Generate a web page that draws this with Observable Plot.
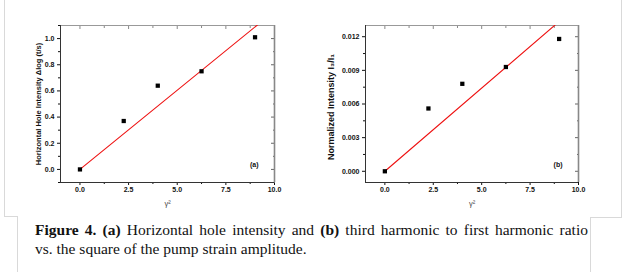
<!DOCTYPE html>
<html><head><meta charset="utf-8">
<script src="https://cdn.jsdelivr.net/npm/d3@7"></script>
<script src="https://cdn.jsdelivr.net/npm/@observablehq/plot@0.6"></script>
<style>
html,body{margin:0;padding:0;background:#fff;}
#wrap{position:relative;width:622px;height:272px;overflow:hidden;background:#fff;}
.ln{position:absolute;background:#d9d9d9;}
.pl{position:absolute;top:0;}
#cap{position:absolute;left:35px;top:220px;width:553px;font-family:"Liberation Serif","Times New Roman",serif;font-size:15.5px;color:#111;line-height:19px;}
#cap div{text-align:justify;white-space:nowrap;}
#cap .l1{text-align-last:justify;white-space:normal;}
</style></head>
<body><div id="wrap">
<div class="ln" style="left:4px;top:0;width:1px;height:216px"></div>
<div class="ln" style="left:4px;top:216px;width:13px;height:1px"></div>
<div class="ln" style="left:17px;top:216px;width:1px;height:56px"></div>
<div class="ln" style="left:621px;top:0;width:1px;height:217px"></div>
<div class="ln" style="left:590px;top:217px;width:32px;height:1px"></div>
<div class="ln" style="left:590px;top:217px;width:1px;height:55px"></div>
<div id="pa" class="pl" style="left:0"></div>
<div id="pb" class="pl" style="left:311px"></div>
<div id="cap"><div class="l1"><b>Figure 4. (a)</b> Horizontal hole intensity and <b>(b)</b> third harmonic to first harmonic ratio</div><div>vs. the square of the pump strain amplitude.</div></div>
</div>
<script>
// data
const gamma2 = [0, 2.25, 4, 6.25, 9];
const holeIntensity = [0, 0.37, 0.64, 0.75, 1.01];
const ratioI3I1 = [0, 0.0056, 0.0078, 0.0093, 0.0118];
const fitA = {x: [0, 10], y: [0, 1.21]};
const fitB = {x: [0, 10], y: [0, 0.01484]};
const xTicks = [0, 2.5, 5, 7.5, 10];
const xMinor = [1.25, 3.75, 6.25, 8.75];
const yTicksA = [0, 0.2, 0.4, 0.6, 0.8, 1.0];
const yMinorA = [-0.1, 0.1, 0.3, 0.5, 0.7, 0.9, 1.1];
const yTicksB = [0, 0.003, 0.006, 0.009, 0.012];
const yMinorB = [0.0015, 0.0045, 0.0075, 0.0105];
const xDomain = [-1, 10];
const yDomainA = [-0.1, 1.1];
const yDomainB = [-0.001, 0.013];
const xLabel = "γ²";
const yLabelA = "Horizontal Hole Intensity Δlog (t/s)";
const yLabelB = "Normalized Intensity I₃/I₁";
const panelA = "(a)", panelB = "(b)";

function chart({ys, fit, yDomain, yTicks, yMinor, yFmt, yLabel, yLabelSize, yLabelDx, yLabelDy, panel, marginLeft, marginRight}) {
  const pts = gamma2.map((x, i) => ({x, y: ys[i]}));
  const line = fit.x.map((x, i) => ({x, y: fit.y[i]}));
  return Plot.plot({
    width: 311, height: 215,
    marginLeft, marginRight, marginTop: 25, marginBottom: 33,
    style: {fontFamily: "'Liberation Sans', Arial, sans-serif", fontSize: "7px", fontWeight: "bold", color: "#111", background: "transparent", overflow: "visible"},
    x: {domain: xDomain},
    y: {domain: yDomain},
    marks: [
      Plot.axisX({ticks: xTicks, tickFormat: d3.format(".1f"), tickSize: 3, tickPadding: 1.5, label: null}),
      Plot.axisX({ticks: xMinor, tickFormat: () => "", tickSize: 2, label: null}),
      Plot.axisX({ticks: xTicks, anchor: "top", tickFormat: () => "", tickSize: -3, label: null, stroke: "#888"}),
      Plot.axisX({ticks: xMinor, anchor: "top", tickFormat: () => "", tickSize: -2, label: null, stroke: "#888"}),
      Plot.axisY({ticks: yTicks, tickFormat: yFmt, tickSize: 3, tickPadding: 3, label: null}),
      Plot.axisY({ticks: yMinor, tickFormat: () => "", tickSize: 2, label: null}),
      Plot.axisY({ticks: yTicks, anchor: "right", tickFormat: () => "", tickSize: -4, label: null, stroke: "#666"}),
      Plot.axisY({ticks: yMinor, anchor: "right", tickFormat: () => "", tickSize: -2, label: null, stroke: "#666"}),
      Plot.text([yLabel], {frameAnchor: "left", textAnchor: "middle", dx: yLabelDx, dy: yLabelDy, rotate: -90, text: d => d, fontSize: yLabelSize, fontWeight: "bold", fill: "#111"}),
      Plot.text([xLabel], {frameAnchor: "bottom", dy: 23, text: d => d, fontWeight: "normal", fontSize: 7.5, fill: "#444"}),
      Plot.ruleX([xDomain[1]], {stroke: "#888", strokeWidth: 1.6}),
      Plot.ruleY([yDomain[1]], {stroke: "#999", strokeWidth: 1}),
      Plot.ruleX([xDomain[0]], {stroke: "#333", strokeWidth: 1}),
      Plot.ruleY([yDomain[0]], {stroke: "#333", strokeWidth: 1}),
      Plot.line(line, {x: "x", y: "y", stroke: "#ee1111", strokeWidth: 1.1, clip: true}),
      Plot.dot(pts, {x: "x", y: "y", symbol: "square", r: 2.4, fill: "#000", stroke: "none"}),
      Plot.text([panel], {frameAnchor: "bottom-right", dx: -16, dy: -16, text: d => d, fontSize: 7, fontWeight: "bold"})
    ]
  });
}
const a = chart({ys: holeIntensity, fit: fitA, yDomain: yDomainA, yTicks: yTicksA, yMinor: yMinorA, yFmt: d3.format(".1f"), yLabel: yLabelA, yLabelSize: 7.5, yLabelDx: -22, yLabelDy: 0, panel: panelA, marginLeft: 60, marginRight: 37});
const b = chart({ys: ratioI3I1, fit: fitB, yDomain: yDomainB, yTicks: yTicksB, yMinor: yMinorB, yFmt: d3.format(".3f"), yLabel: yLabelB, yLabelSize: 9, yLabelDx: -34, yLabelDy: 3, panel: panelB, marginLeft: 54, marginRight: 44});
document.getElementById("pa").appendChild(a);
document.getElementById("pb").appendChild(b);
</script>
</body></html>
